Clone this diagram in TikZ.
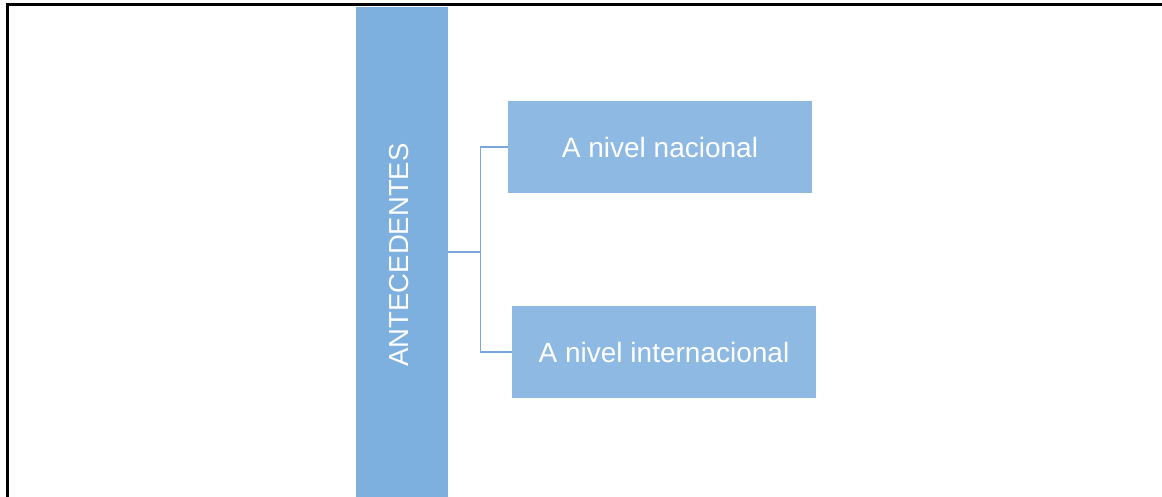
\documentclass[tikz,border=0pt]{standalone}
\usepackage{fontspec}
\setmainfont{Liberation Sans}
\definecolor{barblue}{HTML}{7EB0DF}
\definecolor{boxblue}{HTML}{8DB9E3}
\definecolor{lineblue}{HTML}{7AA6DA}
\begin{document}
\begin{tikzpicture}[x=1pt, y=1pt,
  bar/.style={fill=barblue, draw=none, minimum width=92pt, minimum height=490pt, inner sep=0pt, text=white},
  box/.style={fill=boxblue, draw=none, minimum width=304pt, minimum height=92pt, inner sep=0pt, text=white, font=\fontsize{28}{32}\selectfont},
  link/.style={lineblue, line width=1.3pt}]
\useasboundingbox (0,0) rectangle (1162,497);

% frame
\draw[line width=3pt] (7,0) -- (7,492.5) -- (1162,492.5);

\node[bar] (ante) at (402,245) {};
\node[rotate=90, text=white, font=\fontsize{27.5}{32}\selectfont] (antetext) at (399,242) {ANTECEDENTES};

\node[box] (nacional) at (660,350) {A nivel nacional};
\node[box] (internacional) at (664,145) {A nivel internacional};

\draw[link] (ante.east) -- ++(32,0) coordinate (split) |- (nacional.west);
\draw[link] (split) |- (internacional.west);

\end{tikzpicture}
\end{document}
